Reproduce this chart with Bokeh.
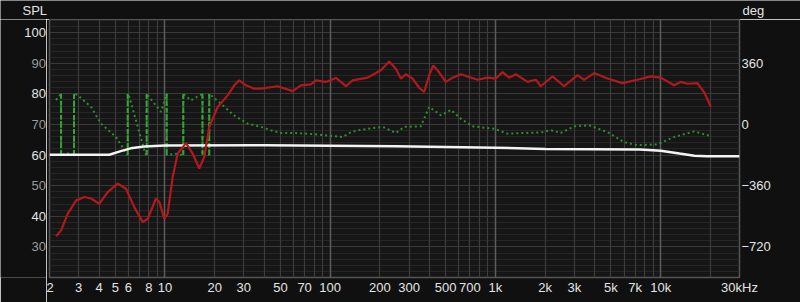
from bokeh.plotting import figure
from bokeh.models import Range1d, LinearAxis, FixedTicker, Grid, ColumnDataSource
from bokeh.layouts import column, row
from bokeh.core.properties import value
from bokeh.embed import file_html
from bokeh.resources import INLINE

# ---------------- data ----------------
spl_freq = [2.19, 2.35, 2.58, 2.9, 3.25, 3.57, 4.0, 4.5, 5.17, 5.81, 6.52, 7.33, 7.86, 8.82, 9.24,
            9.9, 10.38, 11.13, 11.93, 13.4, 14.71, 16.12, 17.29, 18.53, 20.84, 23.95, 26.26, 28.15,
            30.9, 34.7, 38.1, 48.1, 59.2, 66.5, 76.4, 81.9, 94.2, 108.3, 124.5, 136.6, 168.4, 189.1,
            202.6, 227.5, 249.7, 267.7, 287.1, 315.1, 345.5, 370.4, 397.2, 420.1, 446.4, 501.1,
            550.4, 617.5, 693.2, 779.4, 896.1, 1006, 1104, 1210, 1328, 1564, 1755, 1882, 2215,
            2604, 3139, 3441, 3955, 4766, 5873, 7237, 8712, 10014, 12054, 13233, 14526, 16699,
            18304, 20090]
spl_db = [33.5, 35.4, 40.9, 45.2, 46.3, 45.8, 44.1, 47.9, 50.7, 49.0, 43.0, 38.1, 39.2, 45.8, 44.7,
          39.2, 40.9, 52.8, 60.5, 63.9, 60.5, 55.6, 59.4, 69.2, 75.7, 79.5, 82.8, 84.4,
          82.8, 81.7, 81.7, 82.5, 80.9, 82.8, 83.1, 84.4, 83.9, 85.2, 82.5, 84.4, 85.3, 86.8,
          87.7, 90.6, 88.2, 85.0, 86.4, 85.0, 82.0, 80.6, 86.1, 89.3, 87.7, 83.9,
          85.3, 86.4, 85.5, 84.6, 85.3, 85.0, 87.1, 85.3, 86.4, 83.9, 84.6, 82.5, 85.7,
          82.5, 86.1, 84.6, 86.8, 85.0, 83.5, 84.6, 85.7, 85.3, 82.8, 83.9, 83.3, 83.5,
          80.6, 75.9]

ref_freq = [2, 4.6, 5.4, 6.2, 7.5, 10, 40, 250, 1000, 2000, 7500, 10000, 13000, 16000, 19000, 30000]
ref_db = [60.1, 60.1, 61.3, 62.2, 62.8, 63.1, 63.2, 62.9, 62.4, 62.0, 61.8, 61.4, 60.5, 59.8, 59.6, 59.6]

ph_freq = [2.19, 2.35, 2.35, 2.6, 2.815, 2.815, 2.94, 3.57, 4.1, 5.05, 5.95, 5.95, 6.05, 7.6, 7.75,
           7.75, 9.46, 10.24, 10.24, 11.5, 12.9, 12.9, 14.36, 16.12, 16.86, 16.86, 17.7, 18.53,
           18.53, 21.8, 26.15, 31.64, 38.1, 43.8, 50.3, 60.3, 73.0, 96.4, 118.9, 133.4, 153.4,
           207.5, 249.7, 280.4, 353.8, 397.2, 467.5, 537.4, 617.5, 727, 982, 1184, 1492, 1882,
           2163, 2487, 2993, 3688, 4766, 6005, 7237, 9565, 12054, 15925, 19624]
ph_deg = [144, 180, -180, -171, -180, 180, 175, 103, 5, -74, -180, 180, 171, -171, -180,
          180, 74, 180, -180, -172, -180, 180, 142, 171, 180, -180, -172, -180,
          180, 122, 54, 5, -14, -34, -50, -50, -54, -65, -74, -45, -31,
          -14, -50, -14, -11, 103, 54, 86, 34, -11, -25, -54, -50, -47,
          -34, -50, -11, -5, -45, -104, -122, -117, -74, -41, -65]

x_ticks = [2, 3, 4, 5, 6, 8, 10, 20, 30, 50, 70, 100, 200, 300, 500, 700, 1000, 2000, 3000,
           5000, 7000, 10000, 30000]
x_tick_labels = ["2", "3", "4", "5", "6", "8", "10", "20", "30", "50", "70", "100", "200", "300",
                 "500", "700", "1k", "2k", "3k", "5k", "7k", "10k", "30kHz"]
spl_ticks = [30, 40, 50, 60, 70, 80, 90, 100]
spl_tick_bright = [False, True, False, True, False, True, False, True]
deg_ticks = [360, 0, -360, -720]
spl_title = "SPL"
deg_title = "deg"

FONT = "Liberation Sans"
TXT = "#e4e4e4"
DIM = "#9a9a9a"
BORDER = "#101010"
FS = "13px"

Y0, Y1 = 20, 104.3
STRIP_W, MAIN_PAD_L, TOP_H, BOTTOM_H, RIGHT_W = 46, 3, 19, 25, 61

# ---------------- main plot ----------------
p = figure(width=800 - STRIP_W, height=302 - TOP_H, x_axis_type="log",
           x_range=Range1d(2, 30000), y_range=Range1d(Y0, Y1),
           output_backend="svg", toolbar_location=None,
           min_border_left=MAIN_PAD_L, min_border_right=RIGHT_W, min_border_top=0,
           min_border_bottom=BOTTOM_H,
           background_fill_color="#161616", border_fill_color=BORDER,
           outline_line_color="#555555", outline_line_width=1.5, y_axis_location=None)
p.extra_y_ranges = {"deg": Range1d((Y0 - 70) * 18, (Y1 - 70) * 18)}

p.xgrid.visible = False
minor_x = []
for dec in [1, 10, 100, 1000, 10000]:
    for m in range(2, 10):
        v = dec * m
        if 2 < v < 30000:
            minor_x.append(v)
decades = [10, 100, 1000, 10000]
p.add_layout(Grid(dimension=1, ticker=FixedTicker(ticks=list(range(22, 104, 2))),
                  grid_line_color="#262626", grid_line_width=1))
p.add_layout(Grid(dimension=1, ticker=FixedTicker(ticks=spl_ticks),
                  grid_line_color="#3a3a3a", grid_line_width=1))
p.add_layout(Grid(dimension=0, ticker=FixedTicker(ticks=minor_x),
                  grid_line_color="#3c3c3c", grid_line_width=1.2))
p.add_layout(Grid(dimension=0, ticker=FixedTicker(ticks=decades),
                  grid_line_color="#5c5c5c", grid_line_width=1.5))

xa = p.xaxis[0]
xa.ticker = FixedTicker(ticks=x_ticks)
xa.major_label_overrides = {t: l for t, l in zip(x_ticks, x_tick_labels)}
ra = LinearAxis(y_range_name="deg", ticker=FixedTicker(ticks=deg_ticks))
p.add_layout(ra, "right")
for ax in (xa, ra):
    ax.axis_line_color = None
    ax.major_tick_line_color = None
    ax.minor_tick_line_color = None
    ax.major_tick_out = 0
    ax.major_tick_in = 0
    ax.minor_tick_out = 0
    ax.minor_tick_in = 0
    ax.major_label_text_color = TXT
    ax.major_label_text_font = FONT
    ax.major_label_text_font_size = FS
xa.major_label_standoff = 2
ra.major_label_standoff = 2

# phase (dotted) + wrap jumps (dashed)
p.line(ph_freq, ph_deg, y_range_name="deg", line_color="#2d8f2d", line_width=2,
       line_dash="2 3")
wx, wy0, wy1 = [], [], []
for i in range(1, len(ph_freq)):
    if ph_freq[i] == ph_freq[i - 1] and abs(ph_deg[i] - ph_deg[i - 1]) > 300:
        wx.append(ph_freq[i]); wy0.append(ph_deg[i - 1]); wy1.append(ph_deg[i])
p.segment(x0=wx, y0=wy0, x1=wx, y1=wy1, y_range_name="deg", line_color="#36a336",
          line_width=2, line_dash="5 2")

p.line(ref_freq, ref_db, line_color="#f4f4f4", line_width=2.5)
p.line(spl_freq, spl_db, line_color="#b3191c", line_width=2.2)

# ---------------- left strip: SPL tick labels ----------------
lf = figure(width=STRIP_W, height=302 - TOP_H, x_range=Range1d(0, STRIP_W), y_range=p.y_range,
            output_backend="svg", toolbar_location=None,
            min_border_left=0, min_border_right=0, min_border_top=0, min_border_bottom=BOTTOM_H,
            background_fill_color=BORDER, border_fill_color=BORDER, outline_line_color=None,
            x_axis_location=None, y_axis_location=None)
lf.grid.visible = False
src = ColumnDataSource(dict(y=spl_ticks, t=[str(v) for v in spl_ticks],
                            c=[TXT if b else DIM for b in spl_tick_bright],
                            x=[STRIP_W - 0.5] * len(spl_ticks)))
lf.text(x="x", y="y", text="t", source=src, text_color="c", text_align="right",
        text_baseline="middle", text_font=value(FONT), text_font_size=FS)

# ---------------- header strip: axis titles ----------------
hd = figure(width=800, height=TOP_H, x_range=Range1d(0, 800), y_range=Range1d(0, TOP_H),
            output_backend="svg", toolbar_location=None,
            min_border_left=0, min_border_right=0, min_border_top=0, min_border_bottom=0,
            background_fill_color=BORDER, border_fill_color=BORDER, outline_line_color=None,
            x_axis_location=None, y_axis_location=None)
hd.grid.visible = False
hd.text(x=[22, 742], y=[TOP_H - 9.5] * 2, text=[spl_title, deg_title], text_color=TXT,
        text_align="left", text_baseline="middle", text_font=value(FONT), text_font_size=FS)

layout = column(hd, row(lf, p, spacing=0), spacing=0)
open("out.html", "w").write(file_html(layout, INLINE))
